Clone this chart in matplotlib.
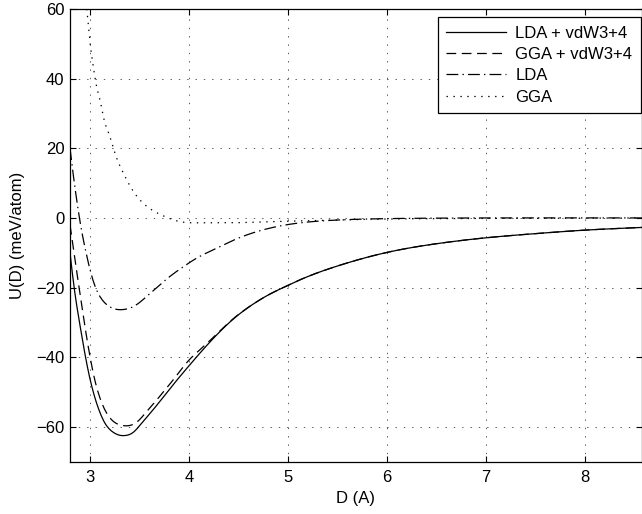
import matplotlib
matplotlib.use("Agg")
import matplotlib.pyplot as plt
import numpy as np

plt.rcParams['font.family'] = ['Liberation Sans', 'DejaVu Sans']
plt.rcParams['font.size'] = 12
plt.rcParams['lines.scale_dashes'] = False

# LDA + vdW3+4 (solid)
x_lda_vdw = [2.8, 2.82, 2.85, 2.9, 2.957, 3.0, 3.05, 3.1, 3.15, 3.2, 3.25, 3.3,
             3.35, 3.4, 3.45, 3.51, 3.6, 3.71, 3.85, 4.0, 4.1, 4.25, 4.45, 4.62,
             4.79, 4.99, 5.12, 5.5, 6.0, 6.5, 7.0, 7.5, 8.0, 8.6]
u_lda_vdw = [-10, -15, -21.7, -30.7, -40, -46, -51.5, -55.7, -58.8, -60.7,
             -61.8, -62.4, -62.5, -62.2, -61.3, -59.4, -56.4, -52.6, -47.6,
             -42.5, -39.2, -34.5, -29.0, -25.3, -22.3, -19.5, -17.8, -13.8,
             -9.9, -7.4, -5.7, -4.5, -3.5, -2.7]

# GGA + vdW3+4 (dashed)
x_gga_vdw = [2.8, 2.83, 2.86, 2.9, 2.95, 3.0, 3.05, 3.1, 3.15, 3.2, 3.25, 3.3,
             3.37, 3.45, 3.5, 3.544, 3.63, 3.73, 3.864, 3.98, 4.133, 4.25, 4.45,
             4.62, 4.79, 4.99, 5.12, 5.5, 6.0, 6.5, 7.0, 7.5, 8.0, 8.6]
u_gga_vdw = [-2, -8, -14, -21.5, -31, -39.5, -46.5, -51.5, -55, -57.3, -58.7,
             -59.4, -59.7, -59.1, -58.0, -56.6, -53.8, -50.4, -45.7, -41.5,
             -37.3, -34.2, -28.9, -25.3, -22.3, -19.5, -17.8, -13.8, -9.9,
             -7.4, -5.7, -4.5, -3.5, -2.7]

# LDA (dash-dot)
x_lda = [2.8, 2.82, 2.87, 2.91, 2.96, 3.03, 3.13, 3.2, 3.34, 3.45, 3.56, 3.68,
         3.80, 3.95, 4.1, 4.25, 4.45, 4.69, 5.0, 5.43, 6.0, 7.0, 8.6]
u_lda = [20, 15.3, 4.7, -2.5, -9.7, -17.7, -23.7, -25.5, -26.3, -25.3, -22.9,
         -19.9, -17.0, -13.9, -11.2, -9.1, -6.4, -3.9, -1.9, -0.7, -0.2, 0, 0]

# GGA (dotted)
x_gga = [2.96, 2.98, 3.0, 3.03, 3.07, 3.11, 3.14, 3.19, 3.26, 3.33, 3.40, 3.49,
         3.61, 3.75, 3.90, 4.1, 4.4, 4.8, 5.2, 5.8, 6.5, 7.5, 8.6]
u_gga = [62, 57, 51, 44.4, 37.5, 33, 28.7, 24.4, 18.1, 13.4, 9.5, 5.7, 2.6,
         0.5, -1.0, -1.4, -1.4, -1.1, -0.8, -0.4, -0.2, -0.1, 0]

labels = ["LDA + vdW3+4", "GGA + vdW3+4", "LDA", "GGA"]


def spline(x, y, n=500):
    # natural cubic spline through the read-off points
    x = np.asarray(x, float)
    y = np.asarray(y, float)
    k = len(x)
    h = np.diff(x)
    A = np.zeros((k, k))
    b = np.zeros(k)
    A[0, 0] = A[-1, -1] = 1
    for i in range(1, k - 1):
        A[i, i - 1] = h[i - 1]
        A[i, i] = 2 * (h[i - 1] + h[i])
        A[i, i + 1] = h[i]
        b[i] = 6 * ((y[i + 1] - y[i]) / h[i] - (y[i] - y[i - 1]) / h[i - 1])
    M = np.linalg.solve(A, b)
    xs = np.linspace(x[0], x[-1], n)
    j = np.clip(np.searchsorted(x, xs) - 1, 0, k - 2)
    a = x[j + 1] - xs
    c = xs - x[j]
    ys = (M[j] * a**3 + M[j + 1] * c**3) / (6 * h[j]) \
        + (y[j] / h[j] - M[j] * h[j] / 6) * a \
        + (y[j + 1] / h[j] - M[j + 1] * h[j] / 6) * c
    return xs, ys


fig = plt.figure(figsize=(6.42, 5.14), dpi=100)
ax = fig.add_axes([70 / 642, 1 - 461.7 / 514, 571.5 / 642, 452.7 / 514])

ax.plot(*spline(x_lda_vdw, u_lda_vdw), color="black", lw=0.9, ls="-",
        label=labels[0])
ax.plot(*spline(x_gga_vdw, u_gga_vdw), color="black", lw=0.9,
        ls=(0, (7, 4)), label=labels[1])
ax.plot(*spline(x_lda, u_lda), color="black", lw=0.9,
        ls=(0, (8.5, 3, 1, 3)), label=labels[2])
ax.plot(*spline(x_gga, u_gga), color="black", lw=0.9,
        ls=(0, (1, 4)), label=labels[3])

ax.set_xlim(2.8, 8.57)
ax.set_ylim(-70, 60)
ax.set_xticks([3, 4, 5, 6, 7, 8])
ax.set_yticks([-60, -40, -20, 0, 20, 40, 60])
ax.tick_params(direction="in", top=True, right=True, length=4, width=0.8,
               labelsize=12)
ax.tick_params(axis="x", pad=6)
ax.tick_params(axis="y", pad=4)
ax.grid(True, color="black", lw=0.6, ls=(0, (1, 5)), alpha=0.75)
for s in ax.spines.values():
    s.set_linewidth(0.9)

ax.set_xlabel("D (A)", labelpad=4)
ax.set_ylabel("U(D) (meV/atom)", labelpad=8)

leg = ax.legend(loc="upper right", bbox_to_anchor=(640.7 / 642, 1 - 17.3 / 514),
                bbox_transform=fig.transFigure, borderaxespad=0,
                fancybox=False, framealpha=1, edgecolor="black",
                handlelength=3.6, handletextpad=0.55, labelspacing=0.38,
                borderpad=0.5, fontsize=12)
leg.get_frame().set_linewidth(0.9)

fig.savefig("out.png", dpi=100)
